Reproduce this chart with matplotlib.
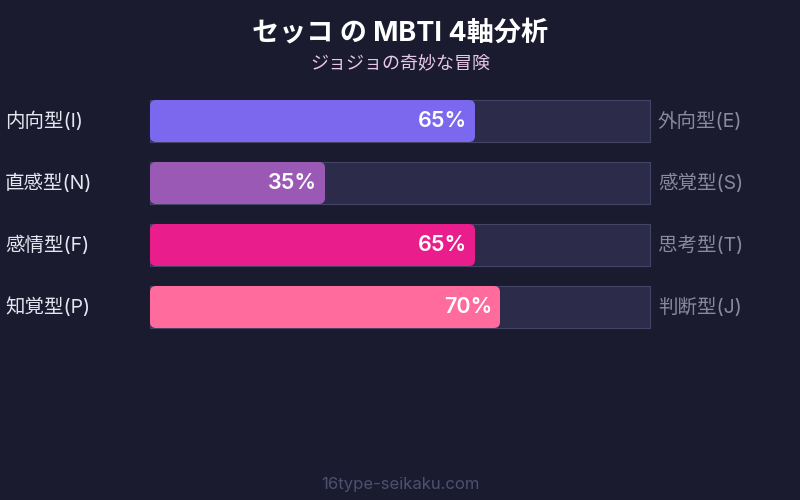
import matplotlib
matplotlib.use("Agg")
import matplotlib.pyplot as plt
from matplotlib.patches import FancyBboxPatch, Rectangle

plt.rcParams['font.family'] = ['Inter', 'Noto Sans CJK JP', 'DejaVu Sans']

title = "セッコ の MBTI 4軸分析"
subtitle = "ジョジョの奇妙な冒険"
footer = "16type-seikaku.com"

left_labels = ["内向型(I)", "直感型(N)", "感情型(F)", "知覚型(P)"]
right_labels = ["外向型(E)", "感覚型(S)", "思考型(T)", "判断型(J)"]
values = [65, 35, 65, 70]
colors = ["#7b68ee", "#9b59b6", "#e91e8c", "#ff6b9d"]

BG = "#1a1b2e"
TRACK = "#2d2b4a"
TRACK_EDGE = "#444466"

fig = plt.figure(figsize=(8, 5), dpi=100, facecolor=BG)
ax = fig.add_axes([0, 0, 1, 1])
ax.set_facecolor(BG)
ax.set_xlim(0, 800)
ax.set_ylim(500, 0)
ax.axis("off")

# layout in pixel units
x0, track_w, bar_h = 150, 500, 42
y_first, y_step = 100, 62

ax.text(400, 33, title, ha="center", va="center", color="white",
        fontsize=19.5, fontweight="bold")
ax.text(400, 64, subtitle, ha="center", va="center", color="#e8c8e8",
        fontsize=13)

for i, (lab_l, lab_r, v, c) in enumerate(zip(left_labels, right_labels, values, colors)):
    y = y_first + i * y_step
    ax.add_patch(Rectangle((x0, y), track_w, bar_h, facecolor=TRACK,
                           edgecolor=TRACK_EDGE, linewidth=0.8))
    w = track_w * v / 100
    r = 6
    ax.add_patch(FancyBboxPatch((x0 + r, y + r), w - 2 * r, bar_h - 2 * r,
                                boxstyle=f"round,pad={r}", facecolor=c,
                                edgecolor="none", mutation_aspect=1))
    ax.text(x0 + w - 8, y + bar_h / 2, f"{v}%", ha="right", va="center",
            color="white", fontsize=15.5, fontweight="semibold")
    ax.text(5, y + bar_h / 2, lab_l, ha="left", va="center",
            color="#e6e6f0", fontsize=14)
    ax.text(658, y + bar_h / 2, lab_r, ha="left", va="center",
            color="#8a8a9e", fontsize=14)

ax.text(400, 485, footer, ha="center", va="center", color="#4e5070",
        fontsize=12)

fig.savefig("out.png", dpi=100, facecolor=BG)
